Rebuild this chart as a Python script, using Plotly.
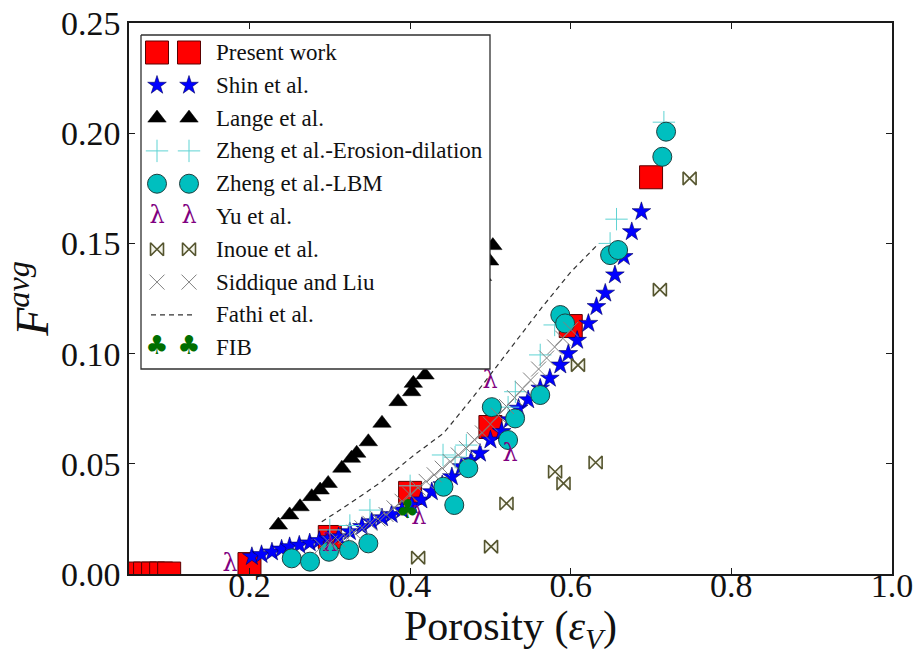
import plotly.graph_objects as go

# ---------------- data ----------------
present_x = [0.05, 0.07, 0.08, 0.09, 0.10, 0.20, 0.30, 0.40, 0.50, 0.60, 0.70]
present_y = [0.0002, 0.0002, 0.0002, 0.0002, 0.0002, 0.0045, 0.0168, 0.0368, 0.0667, 0.1125, 0.180]

shin_x = [0.203, 0.215, 0.228, 0.240, 0.250, 0.262, 0.275, 0.287, 0.298, 0.311, 0.325, 0.340,
          0.352, 0.365, 0.377, 0.390, 0.402, 0.414, 0.427, 0.440, 0.452, 0.464, 0.476, 0.487,
          0.500, 0.514, 0.524, 0.535, 0.547, 0.562, 0.574, 0.587, 0.597, 0.608, 0.622, 0.632,
          0.643, 0.655, 0.666, 0.676, 0.688]
shin_y = [0.0079, 0.0088, 0.0100, 0.0113, 0.0124, 0.0131, 0.0141, 0.0152, 0.0160, 0.0169, 0.0192, 0.0215,
          0.0237, 0.0255, 0.0270, 0.0290, 0.0312, 0.0336, 0.0373, 0.0405, 0.0441, 0.0487, 0.0515, 0.0548,
          0.0608, 0.0646, 0.0700, 0.0752, 0.0790, 0.0843, 0.0888, 0.0948, 0.1000, 0.1060, 0.1137, 0.1213,
          0.1274, 0.1357, 0.1440, 0.1553, 0.1644]

lange_x = [0.236, 0.250, 0.263, 0.2775, 0.288, 0.298, 0.315, 0.327, 0.3335, 0.348, 0.365, 0.385,
           0.402, 0.404, 0.4186, 0.430, 0.445, 0.460, 0.475, 0.490, 0.499, 0.503]
lange_y = [0.0222, 0.0268, 0.0305, 0.0351, 0.0381, 0.0411, 0.0480, 0.0525, 0.0548, 0.0600, 0.0684, 0.0782,
           0.0827, 0.0865, 0.0903, 0.0960, 0.1040, 0.1130, 0.1230, 0.1350, 0.1420, 0.1490]

zheng_ed_x = [0.300, 0.325, 0.350, 0.400, 0.441, 0.456, 0.470, 0.522, 0.531, 0.562, 0.580, 0.649, 0.657, 0.716]
zheng_ed_y = [0.0200, 0.0220, 0.0290, 0.0400, 0.0540, 0.0530, 0.0585, 0.0757, 0.0827, 0.0994, 0.1130, 0.1500, 0.1610, 0.2050]

zheng_lbm_x = [0.2526, 0.2754, 0.299, 0.324, 0.348, 0.4415, 0.455, 0.4725, 0.5017, 0.522, 0.5307, 0.562,
               0.587, 0.593, 0.649, 0.659, 0.714, 0.7187]
zheng_lbm_y = [0.0071, 0.0056, 0.0101, 0.0109, 0.0139, 0.0396, 0.0313, 0.0480, 0.0757, 0.0608, 0.0706, 0.0812,
               0.1175, 0.1137, 0.1447, 0.1470, 0.1893, 0.2007]

yu_x = [0.176, 0.300, 0.411, 0.4996, 0.5245]
yu_y = [0.0040, 0.0130, 0.0255, 0.0870, 0.0540]

inoue_x = [0.410, 0.5008, 0.520, 0.5805, 0.591, 0.609, 0.631, 0.711, 0.748]
inoue_y = [0.0074, 0.0124, 0.0320, 0.0464, 0.0411, 0.0948, 0.0506, 0.1290, 0.1795]

siddique_x = [0.29, 0.30, 0.31, 0.32, 0.33, 0.34, 0.35, 0.36, 0.37, 0.38, 0.39, 0.40, 0.41, 0.42, 0.43, 0.44,
              0.45, 0.46, 0.47, 0.48, 0.49, 0.50, 0.51, 0.52, 0.53, 0.54, 0.55, 0.56, 0.57, 0.58, 0.59, 0.60]
siddique_y = [0.0125, 0.0140, 0.0155, 0.0170, 0.0190, 0.0210, 0.0230, 0.0250, 0.0270, 0.0300, 0.0330, 0.0360,
              0.0390, 0.0420, 0.0450, 0.0480, 0.0510, 0.0540, 0.0570, 0.0610, 0.0640, 0.0680, 0.0720, 0.0760,
              0.0800, 0.0840, 0.0880, 0.0930, 0.0980, 0.1030, 0.1070, 0.1110]

fathi_x = [0.290, 0.325, 0.365, 0.405, 0.442, 0.480, 0.520, 0.562, 0.600, 0.635]
fathi_y = [0.0237, 0.0320, 0.0420, 0.0540, 0.0640, 0.0810, 0.1000, 0.1200, 0.1370, 0.1500]

fib_x = [0.397]
fib_y = [0.0283]

x_ticks = [0.2, 0.4, 0.6, 0.8, 1.0]
y_ticks = [0.00, 0.05, 0.10, 0.15, 0.20, 0.25]

x_title = "Porosity (<i>ε</i><sub><i>V</i></sub>)"
y_title = "<i>F</i><sup><i>avg</i></sup>"

# ---------------- styles ----------------
SERIF = "Liberation Serif, Times New Roman, serif"
W, H = 915, 656
ML, MR, MT, MB = 129, 23, 23, 82

styles = {
    "present": dict(mode="markers", marker=dict(symbol="square", size=23, color="#ff0000",
                                                  line=dict(color="#5a0000", width=1))),
    "shin": dict(mode="markers", marker=dict(symbol="star", size=14, color="#0000ff",
                                               line=dict(color="#000060", width=0.6))),
    "lange": dict(mode="markers", marker=dict(symbol="triangle-up", size=16, color="#000000",
                                                line=dict(color="#000000", width=0.5))),
    "zed": dict(mode="markers", marker=dict(symbol="cross-thin", size=16, color="#5fd3d3",
                                              line=dict(color="#5fd3d3", width=1))),
    "lbm": dict(mode="markers", marker=dict(symbol="circle", size=19, color="#00bfbf",
                                              line=dict(color="#1d4040", width=1))),
    "yu": dict(mode="text", textfont=dict(family="DejaVu Serif, serif", size=24, color="#800080")),
    "inoue": dict(mode="markers", marker=dict(symbol="bowtie", size=13, color="#f4f4ea",
                                                line=dict(color="#55552f", width=1.6))),
    "sidd": dict(mode="markers", marker=dict(symbol="x-thin", size=15, color="#808080",
                                               line=dict(color="#808080", width=1))),
    "fathi": dict(mode="lines", line=dict(color="#333333", width=1.2, dash="5px,4px")),
    "fib": dict(mode="text", textfont=dict(family="DejaVu Sans, sans-serif", size=26, color="#006f00")),
}

fig = go.Figure()

def add(xs, ys, key, text_char=None, xaxis="x", yaxis="y"):
    kw = dict(styles[key])
    if text_char is not None:
        kw["text"] = [text_char] * len(xs)
        kw["textposition"] = "middle center"
    fig.add_trace(go.Scatter(x=xs, y=ys, showlegend=False, hoverinfo="skip",
                             xaxis=xaxis, yaxis=yaxis, **kw))

add(present_x, present_y, "present")
add(shin_x, shin_y, "shin")
add(lange_x, lange_y, "lange")
add(zheng_ed_x, zheng_ed_y, "zed")
add(zheng_lbm_x, zheng_lbm_y, "lbm")
add(yu_x, yu_y, "yu", "λ")
add(inoue_x, inoue_y, "inoue")
add(siddique_x, siddique_y, "sidd")
add(fathi_x, fathi_y, "fathi")
add(fib_x, fib_y, "fib", "♣")

# ---------------- custom legend (matplotlib style, two sample markers) ----------------
legend_items = [
    ("Present work", "present", None),
    ("Shin et al.", "shin", None),
    ("Lange et al.", "lange", None),
    ("Zheng et al.-Erosion-dilation", "zed", None),
    ("Zheng et al.-LBM", "lbm", None),
    ("Yu et al.", "yu", "λ"),
    ("Inoue et al.", "inoue", None),
    ("Siddique and Liu", "sidd", None),
    ("Fathi et al.", "fathi", None),
    ("FIB", "fib", "♣"),
]
# legend geometry in pixel coordinates of the plot area (overlay axes x2/y2)
BOX_L, BOX_R, BOX_T, BOX_B = 141, 490, 35, 369
ROW0, ROWSTEP = 52.5, 32.8
MK1, MK2, TXT = 157, 189, 214

fig.add_trace(go.Scatter(x=[BOX_L, BOX_R, BOX_R, BOX_L, BOX_L], y=[BOX_T, BOX_T, BOX_B, BOX_B, BOX_T],
                         mode="lines", fill="toself", fillcolor="#ffffff",
                         line=dict(color="#303030", width=1.3), showlegend=False, hoverinfo="skip",
                         xaxis="x2", yaxis="y2"))
for i, (label, key, ch) in enumerate(legend_items):
    ry = ROW0 + i * ROWSTEP
    if key == "fathi":
        add([MK1 - 6, MK2 + 6], [ry, ry], key, xaxis="x2", yaxis="y2")
    else:
        add([MK1, MK2], [ry, ry], key, ch, xaxis="x2", yaxis="y2")
    fig.add_annotation(x=TXT, y=ry, xref="x2", yref="y2", text=label, showarrow=False,
                       xanchor="left", yanchor="middle",
                       font=dict(family=SERIF, size=23, color="#111111"))

# x-axis title placed below the tick labels (pixel row 629 of the page)
XTITLE_Y = 629
fig.add_annotation(x=0.5, y=-(XTITLE_Y - (H - MB)) / (H - MT - MB), xref="paper", yref="paper",
                   text=x_title, showarrow=False, xanchor="center", yanchor="middle",
                   font=dict(family=SERIF, size=42, color="#111111"))

axis_common = dict(showline=True, linecolor="#1a1a1a", linewidth=1.5, mirror="ticks",
                   ticks="inside", ticklen=6, tickwidth=1, tickcolor="#1a1a1a",
                   showgrid=False, zeroline=False, automargin=False,
                   tickfont=dict(family=SERIF, size=34, color="#111111"))

fig.update_layout(
    width=W, height=H,
    margin=dict(l=ML, r=MR, t=MT, b=MB, pad=0, autoexpand=False),
    paper_bgcolor="white", plot_bgcolor="white",
    xaxis=dict(range=[0.05, 1.0], tickvals=x_ticks, tickformat=".1f", ticklabelstandoff=-20,
               **axis_common),
    yaxis=dict(range=[0, 0.25], tickvals=y_ticks, tickformat=".2f",
               title=dict(text=y_title, font=dict(family=SERIF, size=46, color="#111111"), standoff=6),
               **axis_common),
    xaxis2=dict(overlaying="x", anchor="y2", range=[ML, W - MR], visible=False, fixedrange=True),
    yaxis2=dict(overlaying="y", anchor="x2", range=[H - MB, MT], visible=False, fixedrange=True),
    showlegend=False,
)

fig.write_html("out.html")
